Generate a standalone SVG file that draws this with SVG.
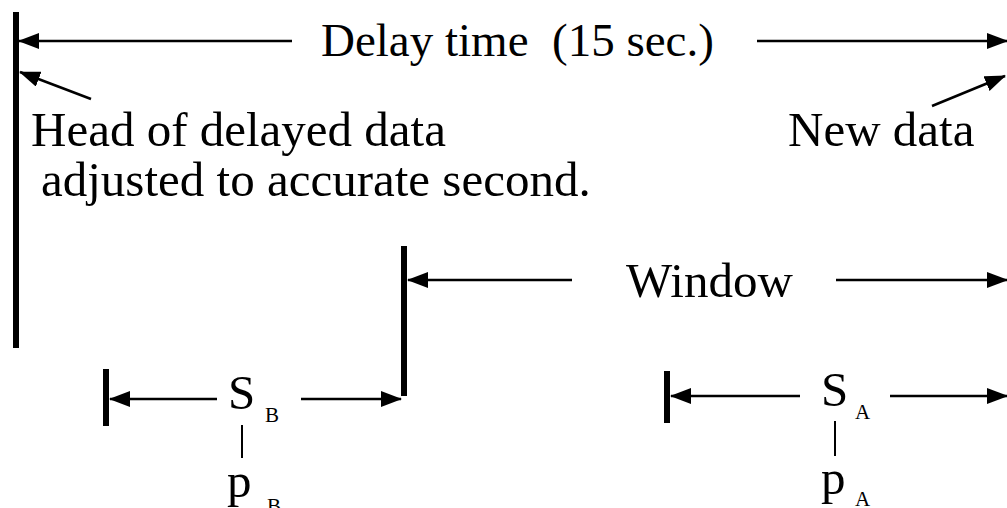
<svg xmlns="http://www.w3.org/2000/svg" width="1007" height="508" viewBox="0 0 1007 508">
<style>
text{font-family:"Liberation Serif","Times New Roman",serif;fill:#000}
.t{font-size:49px}
.d{font-size:47px}
.s{font-size:21px}
.bar{stroke:#000;stroke-width:6;fill:none}
.ln{stroke:#000;stroke-width:2.5;fill:none}
.tk{stroke:#000;stroke-width:2;fill:none}
</style>
<defs>
<marker id="ah" viewBox="0 0 21 16" refX="20" refY="8" markerWidth="21" markerHeight="16" markerUnits="userSpaceOnUse" orient="auto">
<path d="M0,0 L21,8 L0,16 z" fill="#000"/>
</marker>
</defs>
<g id="bars">
<line class="bar" x1="16" y1="12" x2="16" y2="348"/>
<line class="bar" x1="404" y1="246" x2="404" y2="396"/>
<line class="bar" x1="106" y1="369" x2="106" y2="426"/>
<line class="bar" x1="667" y1="371" x2="667" y2="423"/>
</g>
<g id="connectors">
<line class="ln" x1="292" y1="41" x2="19" y2="41" marker-end="url(#ah)"/>
<line class="ln" x1="757" y1="41" x2="1007" y2="41" marker-end="url(#ah)"/>
<line class="ln" x1="91" y1="99" x2="20" y2="72" marker-end="url(#ah)"/>
<line class="ln" x1="932" y1="106" x2="1005" y2="76" marker-end="url(#ah)"/>
<line class="ln" x1="572" y1="280" x2="408" y2="280" marker-end="url(#ah)"/>
<line class="ln" x1="836" y1="280" x2="1007" y2="280" marker-end="url(#ah)"/>
<line class="ln" x1="217" y1="399" x2="110" y2="399" marker-end="url(#ah)"/>
<line class="ln" x1="301" y1="399" x2="401" y2="399" marker-end="url(#ah)"/>
<line class="ln" x1="800" y1="396" x2="671" y2="396" marker-end="url(#ah)"/>
<line class="ln" x1="890" y1="396" x2="1007" y2="396" marker-end="url(#ah)"/>
<line class="tk" x1="242" y1="425" x2="242" y2="458"/>
<line class="tk" x1="835" y1="421" x2="835" y2="456"/>
</g>
<g id="delay-label"><text class="d" x="321" y="56" xml:space="preserve">Delay time  (15 sec.)</text></g>
<g id="head-label">
<text class="t" x="31" y="146">Head of delayed data</text>
<text class="t" x="41" y="196">adjusted to accurate second.</text>
</g>
<g id="new-label"><text class="t" x="788" y="146">New data</text></g>
<g id="window-label"><text class="t" x="626" y="297">Window</text></g>
<g id="sb">
<text class="t" x="228" y="409">S</text><text class="s" x="265" y="422">B</text>
<text class="t" x="227" y="497">p</text><text class="s" x="267" y="513">B</text>
</g>
<g id="sa">
<text class="t" x="821" y="406">S</text><text class="s" x="855" y="419">A</text>
<text class="t" x="821" y="494">p</text><text class="s" x="855" y="506">A</text>
</g>
</svg>
